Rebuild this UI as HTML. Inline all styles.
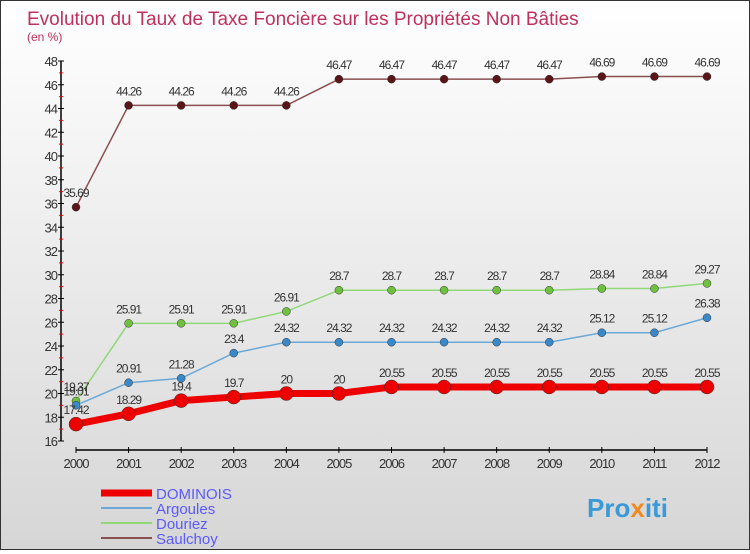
<!DOCTYPE html>
<html><head><meta charset="utf-8"><style>
body{margin:0;width:750px;height:550px;overflow:hidden;font-family:"Liberation Sans",sans-serif}
#c{position:absolute;left:0;top:0;width:748px;height:548px;border:1px solid #333;background:linear-gradient(#ffffff,#d6d6d6)}
</style></head><body>
<div id="c">
<svg id="s" width="748" height="548" xmlns="http://www.w3.org/2000/svg">
<text x="26" y="24" font-size="19" fill="#c0305a">Evolution du Taux de Taxe Foncière sur les Propriétés Non Bâties</text>
<text x="26" y="40" font-size="12" fill="#c0305a">(en %)</text>
<text x="586" y="516" font-size="26" font-weight="bold" fill="#3a9ad9">Pro<tspan fill="#f08a20">x</tspan>iti</text>
</svg></div>
<script>
const years=[2000,2001,2002,2003,2004,2005,2006,2007,2008,2009,2010,2011,2012];
const yTicks=[16,18,20,22,24,26,28,30,32,34,36,38,40,42,44,46,48];
const dominois=[17.42,18.29,19.4,19.7,20,20,20.55,20.55,20.55,20.55,20.55,20.55,20.55];
const argoules=[19.01,20.91,21.28,23.4,24.32,24.32,24.32,24.32,24.32,24.32,25.12,25.12,26.38];
const douriez=[19.37,25.91,25.91,25.91,26.91,28.7,28.7,28.7,28.7,28.7,28.84,28.84,29.27];
const saulchoy=[35.69,44.26,44.26,44.26,44.26,46.47,46.47,46.47,46.47,46.47,46.69,46.69,46.69];
const svg=document.getElementById('s');const NS='http://www.w3.org/2000/svg';
const X=i=>75+i*(706-75)/12, Y=v=>440-(v-16)*(380/32);
function mk(t,a,p){const e=document.createElementNS(NS,t);for(const k in a)e.setAttribute(k,a[k]);(p||svg).appendChild(e);return e;}
let ax=mk('line',{x1:60,y1:60,x2:60,y2:440,stroke:'#000','stroke-width':1.5});


yTicks.forEach((v,k)=>{mk('line',{x1:57,x2:63,y1:Y(v),y2:Y(v),stroke:'#000'});
if(k<yTicks.length-1)mk('line',{x1:58,x2:62,y1:Y(v+1),y2:Y(v+1),stroke:'red'});
const t=mk('text',{x:56,y:Y(v)+5,'font-size':13,fill:'#333','text-anchor':'end','letter-spacing':'-1'});t.textContent=v;

});
let xa=mk('line',{x1:75,y1:449,x2:706,y2:449,stroke:'#000','stroke-width':1.5});


years.forEach((y,i)=>{mk('line',{x1:X(i),x2:X(i),y1:446,y2:452,stroke:'#000'});
const t=mk('text',{x:X(i),y:467,'font-size':13,fill:'#333','text-anchor':'middle','letter-spacing':'-1'});t.textContent=y;

});
const series=[['saulchoy',saulchoy,'#8a5050','#5a1518',1.5,4],['douriez',douriez,'#90d878','#70c040',1.5,4],['argoules',argoules,'#6aa8d8','#3a88c8',1.5,4],['dominois',dominois,'#ee0000','#ee0000',7,7]];
series.forEach(([n,d,lc,pc,w,r])=>{
const g=mk('g',{});
const pl=mk('polyline',{points:d.map((v,i)=>X(i)+','+Y(v)).join(' '),fill:'none',stroke:lc,'stroke-width':w},g);


d.forEach((v,i)=>{const c=mk('circle',{cx:X(i),cy:Y(v),r:r,fill:pc,stroke:'#333','stroke-width':0.5},g);


const t=mk('text',{x:X(i),y:Y(v)-10,'font-size':12,fill:'#333','text-anchor':'middle','letter-spacing':'-1'},g);t.textContent=v;

});});
const leg=[['DOMINOIS','#ee0000',7],['Argoules','#6aa8d8',2],['Douriez','#90d878',2],['Saulchoy','#8a5050',2]];
leg.forEach(([n,c,w],i)=>{const y=492+i*15;
const g=mk('g',{});
mk('line',{x1:100,x2:151,y1:y,y2:y,stroke:c,'stroke-width':w},g);
const t=mk('text',{x:155,y:y+6,'font-size':15,fill:'#5a5aff'},g);t.textContent=n;});
</script></body></html>
